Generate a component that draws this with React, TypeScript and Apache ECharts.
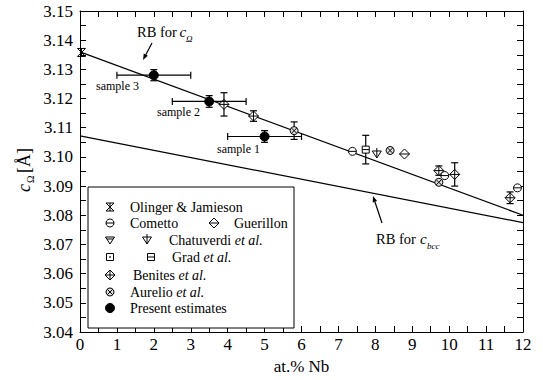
import React, { useEffect, useRef } from "react";
import * as echarts from "echarts";

const FONT = "Liberation Serif";

// Reference lines (RB = rule of mixtures / regression bands)
const rbOmegaX = [0, 12];
const rbOmegaY = [3.136, 3.080];
const rbBccX = [0, 12];
const rbBccY = [3.1072, 3.0775];

// Data sets: x, y, x-error, y-error
const presentX = [2, 3.5, 5];
const presentY = [3.128, 3.119, 3.107];
const presentXErr = [1, 1, 1];
const presentYErr = [0.0019, 0.002, 0.002];

const olingerX = [0.04];
const olingerY = [3.1358];

const comettoX = [7.38, 9.88, 11.85];
const comettoY = [3.1019, 3.0936, 3.0894];

const guerillonX = [8.79];
const guerillonY = [3.101];

const chatX = [8.04];
const chatY = [3.101];

const gradX = [7.74];
const gradY = [3.1025];
const gradYErr = [0.0049];

const benitesX = [3.9, 4.7, 9.72, 10.15, 11.65];
const benitesY = [3.118, 3.114, 3.0953, 3.094, 3.086];
const benitesYErr = [0.004, 0.0018, 0.0016, 0.004, 0.002];

const aurelioX = [5.8, 8.4, 9.72];
const aurelioY = [3.109, 3.1022, 3.0913];
const aurelioYErr = [0.003, 0, 0];

const xTicks = [0, 12, 1];
const yTicks = [3.04, 3.15, 0.01];

function markerEls(kind: string, cx: number, cy: number): any[] {
  const r = 4;
  const ls = { stroke: "#000", lineWidth: 1 };
  const st = { stroke: "#000", fill: "#fff", lineWidth: 1 };
  const ln = (x1: number, y1: number, x2: number, y2: number) => ({
    type: "line",
    shape: { x1: cx + x1, y1: cy + y1, x2: cx + x2, y2: cy + y2 },
    style: ls,
  });
  const circ = (rr: number, fill = "#fff") => ({
    type: "circle",
    shape: { cx, cy, r: rr },
    style: { stroke: "#000", fill, lineWidth: 1 },
  });
  const d = r + 1;
  const diamond = {
    type: "polygon",
    shape: { points: [[cx, cy - d], [cx + d, cy], [cx, cy + d], [cx - d, cy]] },
    style: st,
  };
  const tri = {
    type: "polygon",
    shape: { points: [[cx - r - 0.5, cy - r + 1], [cx + r + 0.5, cy - r + 1], [cx, cy + r]] },
    style: st,
  };
  const sq = {
    type: "rect",
    shape: { x: cx - 3.5, y: cy - 3.5, width: 7, height: 7 },
    style: st,
  };
  switch (kind) {
    case "olinger":
      return [ln(-4, -4, 4, 4), ln(-4, 4, 4, -4), ln(-4, -4, 4, -4), ln(-4, 4, 4, 4), ln(0, -4, 0, 4)];
    case "cometto":
      return [circ(r), ln(-r, 0, r, 0)];
    case "guerillon":
      return [diamond, ln(-d, 0, d, 0)];
    case "benites":
      return [diamond, ln(-d, 0, d, 0), ln(0, -d, 0, d)];
    case "chat1":
      return [tri, ln(-r + 1, -r + 3, r - 1, -r + 3)];
    case "chat2":
      return [tri, ln(0, -r - 2, 0, r)];
    case "grad1":
      return [sq, { type: "rect", shape: { x: cx - 0.8, y: cy - 0.8, width: 1.6, height: 1.6 }, style: { fill: "#000" } }];
    case "grad2":
      return [sq, ln(-3.5, 0, 3.5, 0)];
    case "aurelio":
      return [circ(r, "#ddd"), ln(-2.8, -2.8, 2.8, 2.8), ln(-2.8, 2.8, 2.8, -2.8)];
    case "present":
      return [circ(4.5, "#000")];
  }
  return [];
}

function makeRows(xs: number[], ys: number[], xe?: number[], ye?: number[]) {
  return xs.map((x, i) => [x, ys[i], xe ? xe[i] : 0, ye ? ye[i] : 0]);
}

function markerSeries(kind: string, rows: number[][]) {
  return {
    type: "custom",
    data: rows,
    encode: { x: 0, y: 1 },
    z: 5,
    renderItem: (params: any, api: any) => {
      const x = api.value(0);
      const y = api.value(1);
      const xe = api.value(2);
      const ye = api.value(3);
      const p = api.coord([x, y]);
      const children: any[] = [];
      const ls = { stroke: "#000", lineWidth: 1.2 };
      const cap = 3.5;
      if (ye > 0) {
        const t = api.coord([x, y + ye]);
        const b = api.coord([x, y - ye]);
        children.push({ type: "line", shape: { x1: t[0], y1: t[1], x2: b[0], y2: b[1] }, style: ls });
        children.push({ type: "line", shape: { x1: t[0] - cap, y1: t[1], x2: t[0] + cap, y2: t[1] }, style: ls });
        children.push({ type: "line", shape: { x1: b[0] - cap, y1: b[1], x2: b[0] + cap, y2: b[1] }, style: ls });
      }
      if (xe > 0) {
        const l = api.coord([x - xe, y]);
        const r = api.coord([x + xe, y]);
        children.push({ type: "line", shape: { x1: l[0], y1: l[1], x2: r[0], y2: r[1] }, style: ls });
        children.push({ type: "line", shape: { x1: l[0], y1: l[1] - cap, x2: l[0], y2: l[1] + cap }, style: ls });
        children.push({ type: "line", shape: { x1: r[0], y1: r[1] - cap, x2: r[0], y2: r[1] + cap }, style: ls });
      }
      children.push(...markerEls(kind, p[0], p[1]));
      return { type: "group", children };
    },
  };
}

function txt(x: number, y: number, text: string, size: number, italic = false, extra: any = {}) {
  return {
    type: "text",
    x,
    y,
    style: {
      text,
      fontSize: size,
      fontFamily: FONT,
      fontStyle: italic ? "italic" : "normal",
      fill: "#000",
      align: "left",
      verticalAlign: "middle",
      ...extra,
    },
  };
}

function arrow(x1: number, y1: number, x2: number, y2: number) {
  const dx = x2 - x1, dy = y2 - y1;
  const len = Math.sqrt(dx * dx + dy * dy);
  const ux = dx / len, uy = dy / len;
  const bx = x2 - ux * 6, by = y2 - uy * 6;
  const px = -uy * 2.3, py = ux * 2.3;
  return [
    { type: "line", shape: { x1, y1, x2: bx, y2: by }, style: { stroke: "#000", lineWidth: 1.2 } },
    {
      type: "polygon",
      shape: { points: [[x2, y2], [bx + px, by + py], [bx - px, by - py]] },
      style: { fill: "#000" },
    },
  ];
}

function axisCommon(show: boolean) {
  return {
    axisLine: { show: true, onZero: false, lineStyle: { color: "#000", width: 1 } },
    axisTick: { show: true, inside: true, length: 6, lineStyle: { color: "#000" } },
    minorTick: { show: true, splitNumber: 2, length: 6, lineStyle: { color: "#000" } },
    splitLine: { show: false },
    minorSplitLine: { show: false },
    axisLabel: { show, color: "#000", fontFamily: FONT, fontSize: 17 },
  };
}

export default function App() {
  const ref = useRef<HTMLDivElement>(null);
  useEffect(() => {
    if (!ref.current) return;
    const chart = echarts.init(ref.current, null, { renderer: "svg" });

    const legendY = [207, 223, 240, 257, 275, 292, 308];
    const LF = 14;
    const rich = { i: { fontStyle: "italic", fontSize: LF, fontFamily: FONT } };
    const legendItems: any[] = [
      { type: "rect", shape: { x: 88, y: 187, width: 206, height: 141 }, style: { fill: "#fff", stroke: "#000", lineWidth: 1 } },
      ...markerEls("olinger", 110, legendY[0]),
      txt(130, legendY[0], "Olinger & Jamieson", LF),
      ...markerEls("cometto", 110, legendY[1]),
      txt(130, legendY[1], "Cometto", LF),
      ...markerEls("guerillon", 214, legendY[1]),
      txt(234, legendY[1], "Guerillon", LF),
      ...markerEls("chat1", 110, legendY[2]),
      ...markerEls("chat2", 147, legendY[2]),
      txt(169, legendY[2], "Chatuverdi {i|et al.}", LF, false, { rich }),
      ...markerEls("grad1", 110, legendY[3]),
      ...markerEls("grad2", 151, legendY[3]),
      txt(172, legendY[3], "Grad {i|et al.}", LF, false, { rich }),
      ...markerEls("benites", 110, legendY[4]),
      txt(133, legendY[4], "Benites {i|et al.}", LF, false, { rich }),
      ...markerEls("aurelio", 110, legendY[5]),
      txt(130, legendY[5], "Aurelio {i|et al.}", LF, false, { rich }),
      ...markerEls("present", 110, legendY[6]),
      txt(130, legendY[6], "Present estimates", LF),
    ].map((e) => ({ ...e, z: 100 }));

    const annotations: any[] = [
      txt(137, 32, "RB for", 14.5),
      txt(179.5, 32, "c", 15, true),
      txt(186, 39, "Ω", 9, true),
      ...arrow(152, 43, 143, 60),
      txt(376, 239, "RB for", 14.5),
      txt(420, 239, "c", 15, true),
      txt(427, 246, "bcc", 9, true),
      ...arrow(382, 223, 373, 196),
      txt(96, 86, "sample 3", 12),
      txt(157, 112, "sample 2", 12),
      txt(217, 148.5, "sample 1", 12),
      {
        type: "group",
        x: 24,
        y: 192,
        rotation: Math.PI / 2,
        children: [
          txt(0, 0, "c", 18, true),
          txt(9, 6, "Ω", 10),
          txt(19, 0, "[Å]", 18),
        ],
      },
    ];

    const option: any = {
      animation: false,
      backgroundColor: "#fff",
      textStyle: { fontFamily: FONT },
      grid: { left: 80, right: 20, top: 11, bottom: 48, containLabel: false },
      xAxis: [
        {
          type: "value",
          position: "bottom",
          min: xTicks[0],
          max: xTicks[1],
          interval: xTicks[2],
          name: "at.% Nb",
          nameLocation: "middle",
          nameGap: 20,
          nameTextStyle: { color: "#000", fontFamily: FONT, fontSize: 17 },
          ...axisCommon(true),
          axisLabel: { show: true, color: "#000", fontFamily: FONT, fontSize: 17, margin: 4 },
        },
        {
          type: "value",
          position: "top",
          min: xTicks[0],
          max: xTicks[1],
          interval: xTicks[2],
          ...axisCommon(false),
        },
      ],
      yAxis: [
        {
          type: "value",
          position: "left",
          min: yTicks[0],
          max: yTicks[1],
          interval: yTicks[2],
          ...axisCommon(true),
          axisLabel: {
            show: true,
            color: "#000",
            fontFamily: FONT,
            fontSize: 17,
            margin: 7,
            formatter: (v: number) => v.toFixed(2),
          },
        },
        {
          type: "value",
          position: "right",
          min: yTicks[0],
          max: yTicks[1],
          interval: yTicks[2],
          ...axisCommon(false),
        },
      ],
      series: [
        {
          type: "line",
          data: rbOmegaX.map((x, i) => [x, rbOmegaY[i]]),
          showSymbol: false,
          lineStyle: { color: "#000", width: 1.2 },
          silent: true,
          z: 2,
        },
        {
          type: "line",
          data: rbBccX.map((x, i) => [x, rbBccY[i]]),
          showSymbol: false,
          lineStyle: { color: "#000", width: 1.2 },
          silent: true,
          z: 2,
        },
        markerSeries("olinger", makeRows(olingerX, olingerY)),
        markerSeries("cometto", makeRows(comettoX, comettoY)),
        markerSeries("guerillon", makeRows(guerillonX, guerillonY)),
        markerSeries("chat2", makeRows(chatX, chatY)),
        markerSeries("grad2", makeRows(gradX, gradY, undefined, gradYErr)),
        markerSeries("benites", makeRows(benitesX, benitesY, undefined, benitesYErr)),
        markerSeries("aurelio", makeRows(aurelioX, aurelioY, undefined, aurelioYErr)),
        markerSeries("present", makeRows(presentX, presentY, presentXErr, presentYErr)),
      ],
      graphic: [...annotations, ...legendItems],
    };
    chart.setOption(option);
    return () => chart.dispose();
  }, []);
  return (
    <div
      ref={ref}
      style={{ position: "fixed", left: 0, top: 0, width: 543, height: 380, background: "#fff" }}
    />
  );
}
